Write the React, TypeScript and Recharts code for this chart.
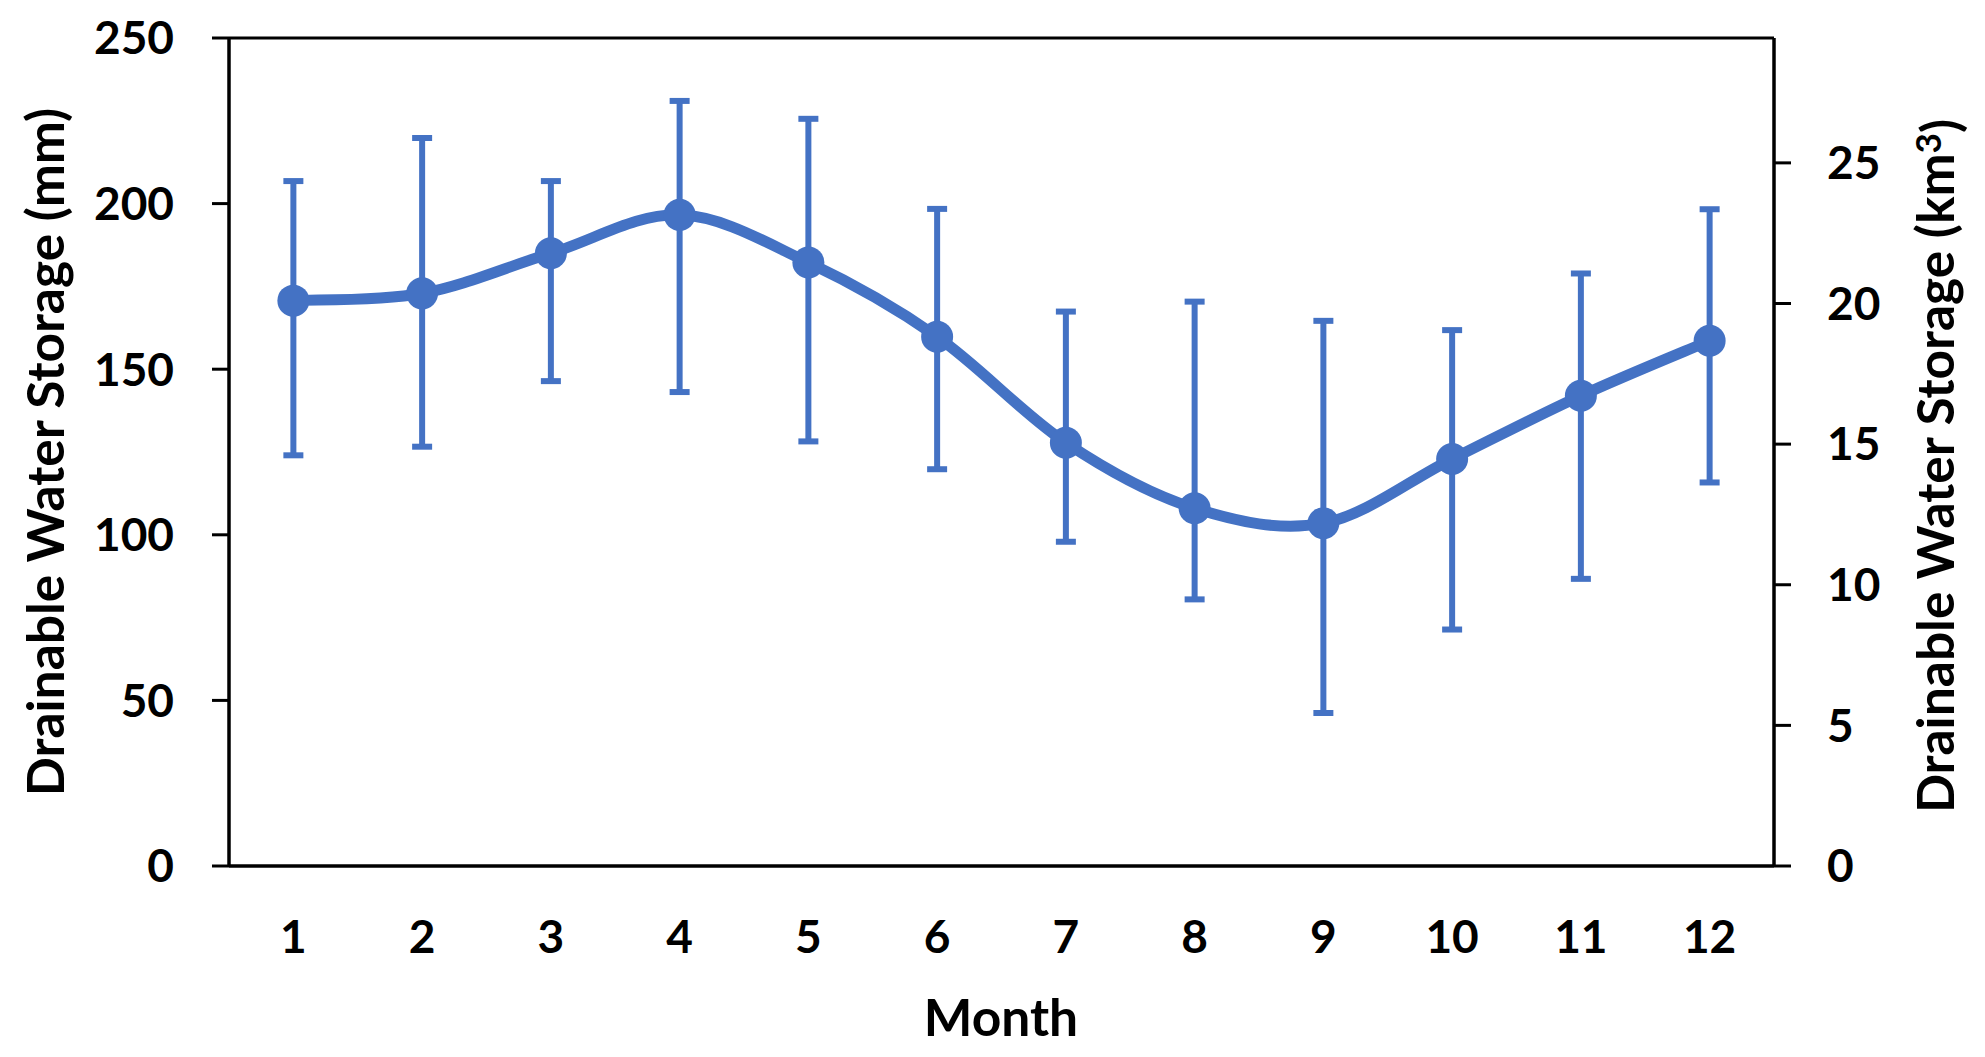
import React from "react";
import { LineChart, Line, XAxis, YAxis, ErrorBar, ReferenceLine } from "recharts";

const months = [1, 2, 3, 4, 5, 6, 7, 8, 9, 10, 11, 12];
const storageMean = [170.7, 172.9, 185.0, 196.6, 182.2, 159.8, 127.8, 108.0, 103.5, 122.9, 142.0, 158.6];
const storageUpper = [206.8, 219.8, 206.8, 231.0, 225.6, 198.4, 167.4, 170.4, 164.6, 161.8, 178.9, 198.3];
const storageLower = [124.0, 126.6, 146.4, 143.1, 128.2, 119.8, 97.9, 80.5, 46.2, 71.4, 86.7, 115.8];

const mmTicks = [0, 50, 100, 150, 200, 250];
const mmMinorTicks = [25, 75, 125, 175, 225];
const kmTicks = [0, 5, 10, 15, 20, 25];
const kmMinorTicks = [2.5, 7.5, 12.5, 17.5, 22.5, 27.5];
const monthEdges = [0.5, 1.5, 2.5, 3.5, 4.5, 5.5, 6.5, 7.5, 8.5, 9.5, 10.5, 11.5, 12.5];

const data = months.map((m, i) => ({
  month: m,
  mean: storageMean[i],
  err: [storageMean[i] - storageLower[i], storageUpper[i] - storageMean[i]],
}));

const BLUE = "#4472C4";
const FONT = "Lato, 'Open Sans', sans-serif";
const W = 1985;
const H = 1057;
// plot box: left 229, right 1774, top 38, bottom 866 (axes are 1px each)
const M = { top: 38, right: 209, bottom: 189, left: 227 };

// Excel-style smoothed line (uniform Catmull-Rom as cubic beziers)
function excelSmooth(context: any) {
  let pts: number[][] = [];
  return {
    areaStart() {},
    areaEnd() {},
    lineStart() {
      pts = [];
    },
    point(x: number, y: number) {
      pts.push([+x, +y]);
    },
    lineEnd() {
      if (!pts.length) return;
      context.moveTo(pts[0][0], pts[0][1]);
      for (let i = 0; i < pts.length - 1; i++) {
        const p0 = pts[i - 1] || pts[i];
        const p1 = pts[i];
        const p2 = pts[i + 1];
        const p3 = pts[i + 2] || p2;
        context.bezierCurveTo(
          p1[0] + (p2[0] - p0[0]) / 6,
          p1[1] + (p2[1] - p0[1]) / 6,
          p2[0] - (p3[0] - p1[0]) / 6,
          p2[1] - (p3[1] - p1[1]) / 6,
          p2[0],
          p2[1]
        );
      }
    },
  };
}

const tickStyle = { fontFamily: FONT, fontSize: 46, fontWeight: 700, fill: "#000" };
const titleStyle = { fontFamily: FONT, fontSize: 51.5, fontWeight: 700, fill: "#000" };
const axisLine = { stroke: "#000", strokeWidth: 3.5 };
const tickLine = { stroke: "#000", strokeWidth: 3 };

export default function App() {
  const plotMidY = 452;
  const plotMidX = 1001;
  return (
    <div style={{ position: "absolute", left: 0, top: 0, width: W, height: H, background: "#fff" }}>
      <LineChart width={W} height={H} data={data} margin={M}>
        <XAxis
          dataKey="month"
          type="number"
          domain={[0.5, 12.5]}
          ticks={months}
          height={1}
          tickLine={false}
          tickSize={0}
          tickMargin={54}
          axisLine={axisLine}
          tick={tickStyle}
          interval={0}
        />
        <XAxis
          xAxisId="edges"
          type="number"
          domain={[0.5, 12.5]}
          ticks={monthEdges}
          height={1}
          tick={false}
          tickSize={17}
          tickLine={tickLine}
          axisLine={false}
          interval={0}
        />
        <YAxis
          yAxisId="mm"
          type="number"
          domain={[0, 250]}
          ticks={mmTicks}
          width={1}
          tickSize={17}
          tickMargin={38}
          tickLine={tickLine}
          axisLine={axisLine}
          tick={tickStyle}
          interval={0}
        />
        <YAxis
          yAxisId="mmMinor"
          type="number"
          domain={[0, 250]}
          ticks={mmMinorTicks}
          width={1}
          tickSize={12}
          tickLine={tickLine}
          axisLine={false}
          tick={false}
          interval={0}
        />
        <YAxis
          yAxisId="km"
          orientation="right"
          type="number"
          domain={[0, 29.44]}
          allowDataOverflow
          ticks={kmTicks}
          width={1}
          tickSize={17}
          tickMargin={36}
          tickLine={tickLine}
          axisLine={axisLine}
          tick={tickStyle}
          interval={0}
        />
        <YAxis
          yAxisId="kmMinor"
          orientation="right"
          type="number"
          domain={[0, 29.44]}
          allowDataOverflow
          ticks={kmMinorTicks}
          width={1}
          tickSize={13}
          tickLine={tickLine}
          axisLine={false}
          tick={false}
          interval={0}
        />
        <ReferenceLine yAxisId="mm" y={250} stroke="#000" strokeWidth={3} />
        <Line
          yAxisId="mm"
          dataKey="mean"
          type={excelSmooth as any}
          stroke={BLUE}
          strokeWidth={11}
          dot={{ r: 16, fill: BLUE, stroke: BLUE, strokeWidth: 0 }}
          activeDot={false}
          isAnimationActive={false}
        >
          <ErrorBar dataKey="err" direction="y" width={10} stroke={BLUE} strokeWidth={6} isAnimationActive={false} />
        </Line>
      </LineChart>
      <svg style={{ position: "absolute", left: 0, top: 0, pointerEvents: "none" }} width={W} height={H}>
        <text x={plotMidX} y={1017} textAnchor="middle" dy="0.36em" style={titleStyle}>
          Month
        </text>
        <text x={45} y={plotMidY} transform={`rotate(-90 45 ${plotMidY})`} textAnchor="middle" dy="0.36em" style={titleStyle}>
          Drainable Water Storage (mm)
        </text>
        <text x={1935} y={466} transform="rotate(-90 1935 466)" textAnchor="middle" dy="0.36em" style={titleStyle}>
          Drainable Water Storage (km
          <tspan dy="-0.35em" fontSize={35}>3</tspan>
          <tspan dy="0.35em">)</tspan>
        </text>
      </svg>
    </div>
  );
}
